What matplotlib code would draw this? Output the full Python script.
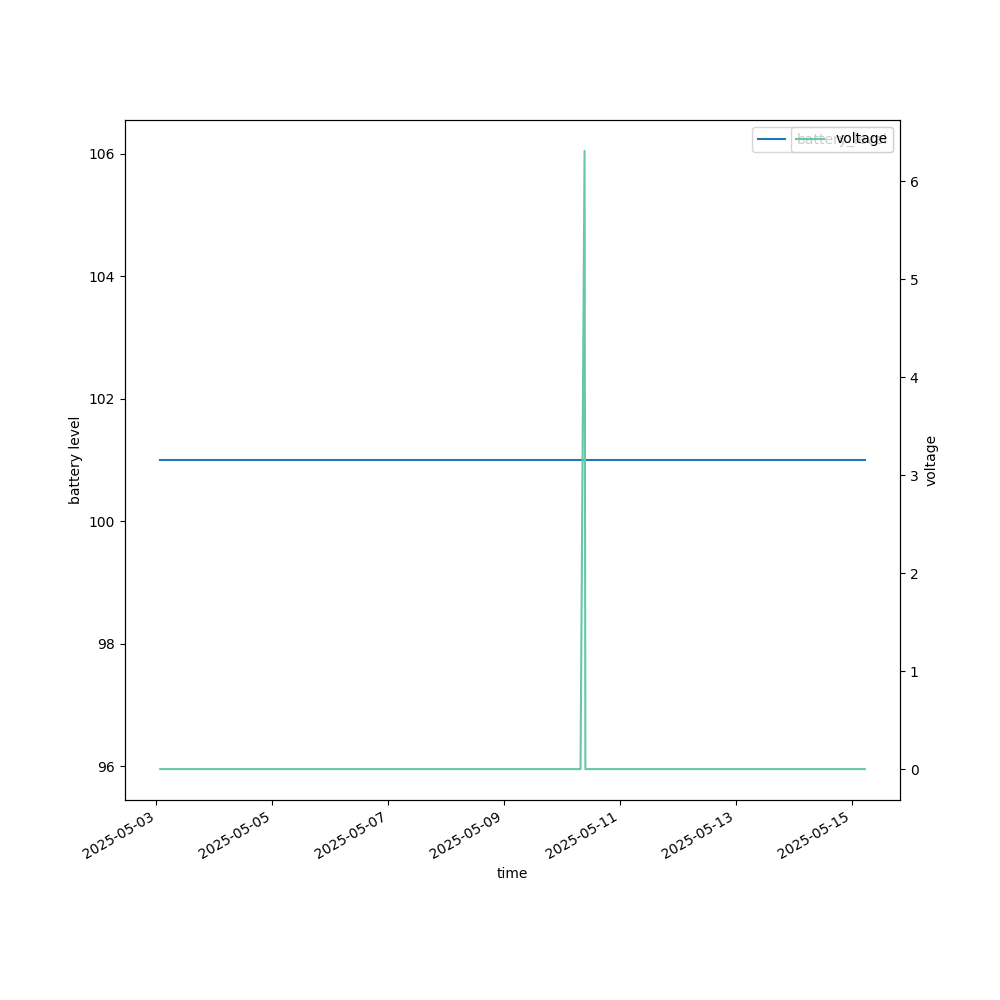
import pandas as pd
import matplotlib
matplotlib.use("Agg")
import matplotlib.pyplot as plt
import matplotlib.dates as mdates

# readings
times = pd.to_datetime([
    "2025-05-03 01:40",
    "2025-05-10 07:40",
    "2025-05-10 09:20",
    "2025-05-10 09:40",
    "2025-05-15 05:20",
])
battery_level = [101, 101, 101, 101, 101]
voltage = [0.0, 0.0, 6.31, 0.0, 0.0]

fig, ax = plt.subplots(figsize=(10, 10), dpi=100)
ax.plot(times, battery_level, color="tab:blue", label="battery_level")
ax.set_xlabel("time")
ax.set_ylabel("battery level")
ax.legend(loc="upper right")

ax2 = ax.twinx()
ax2.plot(times, voltage, color="#66c8a6", label="voltage")
ax2.set_ylabel("voltage")
ax2.legend(loc="upper right")

ax.xaxis.set_major_locator(mdates.DayLocator(bymonthday=range(1, 32, 2)))
ax.xaxis.set_major_formatter(mdates.DateFormatter("%Y-%m-%d"))
fig.autofmt_xdate()

plt.savefig("out.png")
